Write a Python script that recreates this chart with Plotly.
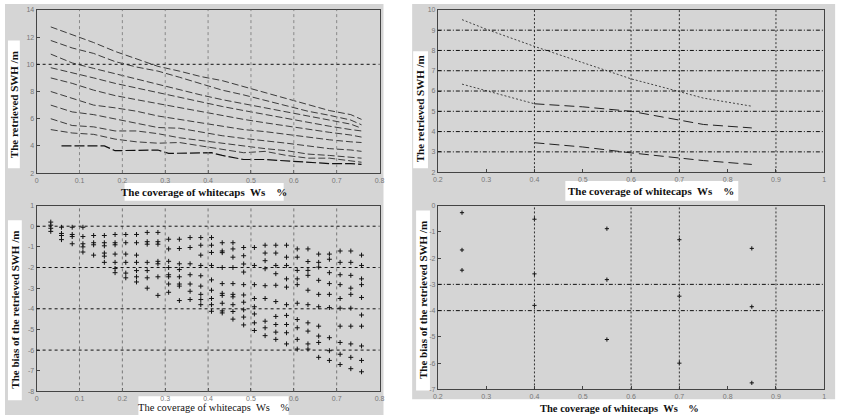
import plotly.graph_objects as go

W, H = 851, 418

# ---------------- data ----------------
# Top-left: retrieved SWH curves vs whitecap coverage
tl_x = [0.033, 0.083, 0.133, 0.183, 0.233, 0.283, 0.333, 0.383, 0.433, 0.483, 0.533, 0.583, 0.633, 0.683, 0.733, 0.758]
tl_lines = [
    [12.75, 12.2, 11.6, 10.95, 10.4, 9.85, 9.5, 9.1, 8.8, 8.35, 7.9, 7.45, 7.05, 6.6, 6.3, 5.95],
    [11.75, 11.2, 10.8, 10.2, 9.8, 9.5, 9.05, 8.6, 8.1, 7.75, 7.35, 6.95, 6.55, 6.25, 5.9, 5.55],
    [10.75, 10.1, 9.7, 9.3, 8.9, 8.55, 8.15, 7.75, 7.4, 7.1, 6.85, 6.55, 6.25, 5.95, 5.6, 5.3],
    [9.75, 9.4, 9.0, 8.6, 8.25, 7.9, 7.55, 7.2, 6.9, 6.6, 6.3, 6.05, 5.75, 5.45, 5.2, 5.1],
    [9.0, 8.6, 8.1, 7.7, 7.4, 7.1, 6.8, 6.5, 6.2, 5.95, 5.7, 5.45, 5.2, 5.0, 4.8, 4.65],
    [8.0, 7.5, 7.0, 6.8, 6.55, 6.2, 5.95, 5.7, 5.45, 5.2, 5.05, 4.85, 4.6, 4.45, 4.3, 4.25],
    [7.0, 6.5, 6.3, 6.0, 5.7, 5.35, 5.3, 5.0, 4.75, 4.55, 4.4, 4.2, 4.0, 3.8, 3.7, 3.6],
    [6.0, 5.5, 5.4, 5.1, 5.1, 4.9, 4.6, 4.4, 4.15, 4.0, 3.8, 3.65, 3.4, 3.3, 3.2, 3.1],
    [5.2, 4.95, 4.85, 4.5, 4.3, 4.2, 4.25, 4.0, 3.8, 3.5, 3.6, 3.3, 3.1, 3.1, 2.9, 2.8],
]
tl_last_x = [0.058, 0.158, 0.183, 0.233, 0.283, 0.308, 0.358, 0.408, 0.433, 0.483, 0.533, 0.583, 0.633, 0.683, 0.733, 0.758]
tl_last_y = [4.0, 4.0, 3.65, 3.7, 3.7, 3.45, 3.5, 3.5, 3.3, 3.0, 3.0, 2.9, 2.8, 2.7, 2.7, 2.65]

# Bottom-left: bias of retrieved SWH (scatter)
bl_cols = [0.033, 0.058, 0.083, 0.108, 0.133, 0.158, 0.183, 0.208, 0.233, 0.258,
           0.283, 0.308, 0.333, 0.358, 0.383, 0.408, 0.433, 0.458, 0.483, 0.508,
           0.533, 0.558, 0.583, 0.608, 0.633, 0.658, 0.683, 0.708, 0.733, 0.758]
bl_vals = [
    [0.2, 0.05, -0.1, -0.25],
    [-0.05, -0.35, -0.45, -0.65],
    [-0.05, -0.4, -0.5, -0.85],
    [-0.05, -0.5, -0.85, -1.0, -1.25],
    [-0.45, -0.8, -0.9, -1.4],
    [-0.45, -0.8, -0.95, -1.3, -1.45, -1.75],
    [-0.4, -0.8, -0.9, -1.35, -1.75, -2.05, -2.25],
    [-0.4, -0.8, -1.35, -1.75, -2.27, -2.5],
    [-0.4, -0.8, -1.4, -1.75, -2.15, -2.45, -2.7],
    [-0.3, -0.75, -0.87, -1.75, -2.15, -2.5, -3.0],
    [-0.3, -0.75, -0.87, -1.7, -1.82, -2.45, -3.35],
    [-0.63, -1.1, -1.7, -2.0, -2.35, -2.45, -2.8, -3.2],
    [-0.63, -1.08, -1.82, -2.1, -2.45, -2.8, -2.9, -3.6],
    [-0.55, -1.03, -1.82, -2.35, -2.8, -3.15, -3.55],
    [-0.55, -0.92, -1.4, -1.9, -2.4, -2.9, -3.3, -3.55, -3.8],
    [-0.55, -0.92, -1.27, -1.9, -2.6, -3.1, -3.5, -3.8, -4.12],
    [-0.8, -1.2, -1.28, -2.0, -2.78, -3.25, -3.35, -3.73, -4.1, -4.2],
    [-0.8, -1.1, -1.5, -2.0, -2.78, -3.3, -3.42, -3.8, -4.13, -4.5],
    [-1.03, -1.43, -1.83, -2.22, -2.83, -3.33, -3.68, -4.05, -4.4, -4.78],
    [-1.03, -1.9, -2.83, -3.5, -3.9, -4.25, -4.68, -5.05],
    [-0.92, -1.3, -1.67, -2.06, -2.88, -3.5, -4.6, -4.92, -5.3],
    [-0.92, -1.3, -1.9, -2.3, -2.86, -3.65, -4.37, -4.76, -5.13, -5.48],
    [-0.92, -1.5, -1.9, -2.55, -2.95, -3.8, -4.32, -4.76, -5.16, -5.7],
    [-1.1, -1.5, -2.14, -2.55, -2.83, -3.73, -4.52, -4.92, -5.48, -5.95],
    [-1.1, -1.71, -2.14, -2.38, -3.1, -3.8, -4.68, -5.08, -5.7, -5.95],
    [-1.35, -1.75, -1.98, -2.62, -3.3, -3.9, -4.84, -5.32, -5.63, -6.35],
    [-1.35, -1.6, -2.25, -2.78, -3.3, -3.94, -5.4, -6.03, -6.5],
    [-1.2, -1.75, -2.35, -2.83, -3.5, -3.97, -4.84, -5.63, -6.2, -6.7],
    [-1.2, -1.75, -2.38, -3.0, -3.3, -3.97, -4.84, -5.7, -6.35, -6.9],
    [-1.4, -1.9, -2.55, -2.83, -3.45, -4.3, -4.84, -5.8, -6.5, -7.05],
]

# Top-right: three retrieved SWH curves
tr_x1 = [0.25, 0.30, 0.40, 0.50, 0.60, 0.70, 0.75, 0.85]
tr_y1 = [9.52, 9.05, 8.2, 7.4, 6.6, 5.97, 5.65, 5.25]
tr_x2a = [0.25, 0.31, 0.40]
tr_y2a = [6.34, 5.95, 5.37]
tr_x2b = [0.40, 0.45, 0.50, 0.60, 0.70, 0.75, 0.85]
tr_y2b = [5.37, 5.3, 5.22, 5.0, 4.58, 4.35, 4.18]
tr_x3 = [0.40, 0.50, 0.60, 0.70, 0.75, 0.85]
tr_y3 = [3.45, 3.24, 2.95, 2.71, 2.57, 2.38]

# Bottom-right: bias scatter
br_x = [0.25, 0.25, 0.25, 0.40, 0.40, 0.40, 0.55, 0.55, 0.55, 0.70, 0.70, 0.70, 0.85, 0.85, 0.85]
br_y = [-0.27, -1.69, -2.46, -0.52, -2.6, -3.8, -0.88, -2.82, -5.1, -1.3, -3.45, -6.0, -1.63, -3.85, -6.75]

xlabel_txt = "The coverage of whitecaps  Ws &nbsp;&nbsp;&nbsp;%"
ylabel_top = "The retrieved SWH /m"
ylabel_bot = "The bias of the retrieved SWH /m"

tl_xticks = [0, 0.1, 0.2, 0.3, 0.4, 0.5, 0.6, 0.7, 0.8]
tl_yticks = [2, 4, 6, 8, 10, 12, 14]
bl_yticks = [1, 0, -1, -2, -3, -4, -5, -6, -7, -8]
r_xticks = [0.2, 0.3, 0.4, 0.5, 0.6, 0.7, 0.8, 0.9, 1.0]
tr_yticks = [2, 3, 4, 5, 6, 7, 8, 9, 10]
br_yticks = [0, -1, -2, -3, -4, -5, -6, -7]

tl_vgrid = [0.1, 0.2, 0.3, 0.4, 0.5, 0.6, 0.7]
tl_hgrid = [10]
bl_hgrid = [0, -2, -4, -6]
r_vgrid = [0.4, 0.6, 0.7, 0.9]
tr_hgrid = [3, 4, 5, 6, 7, 8, 9]
br_hgrid = [-3, -4]

# ---------------- figure ----------------
fig = go.Figure()

def px(x):
    return x / W

def py(y):
    return 1 - y / H

LINE_COL = "#2a2a2a"

for ys in tl_lines:
    fig.add_trace(go.Scatter(x=tl_x, y=ys, mode="lines", xaxis="x", yaxis="y",
                             line=dict(color=LINE_COL, width=0.9, dash="7px,3px"), showlegend=False))
fig.add_trace(go.Scatter(x=tl_last_x, y=tl_last_y, mode="lines", xaxis="x", yaxis="y",
                         line=dict(color="#111", width=1.2, dash="10px,3px"), showlegend=False))

bx, by = [], []
for xv, col in zip(bl_cols, bl_vals):
    for v in col:
        bx.append(xv)
        by.append(v)
fig.add_trace(go.Scatter(x=bx, y=by, mode="markers", xaxis="x2", yaxis="y2",
                         marker=dict(symbol="cross-thin", size=3.5, line=dict(color="#111", width=1)),
                         showlegend=False))

fig.add_trace(go.Scatter(x=tr_x1, y=tr_y1, mode="lines", xaxis="x3", yaxis="y3",
                         line=dict(color="#444", width=1, dash="2px,2px"), showlegend=False))
fig.add_trace(go.Scatter(x=tr_x2a, y=tr_y2a, mode="lines", xaxis="x3", yaxis="y3",
                         line=dict(color="#444", width=1, dash="2px,2px"), showlegend=False))
fig.add_trace(go.Scatter(x=tr_x2b, y=tr_y2b, mode="lines", xaxis="x3", yaxis="y3",
                         line=dict(color="#222", width=1, dash="10px,5px"), showlegend=False))
fig.add_trace(go.Scatter(x=tr_x3, y=tr_y3, mode="lines", xaxis="x3", yaxis="y3",
                         line=dict(color="#222", width=1, dash="10px,5px"), showlegend=False))

fig.add_trace(go.Scatter(x=br_x, y=br_y, mode="markers", xaxis="x4", yaxis="y4",
                         marker=dict(symbol="cross-thin", size=3, line=dict(color="#111", width=1)),
                         showlegend=False))

# domains (pixels -> paper)
tl_dom_x = [px(32), px(379)]
tl_dom_y = [py(172), py(6)]
bl_dom_y = [py(394), py(205)]
r_dom_x = [px(438), px(829)]
tr_dom_y = [py(171), py(6)]
br_dom_y = [py(392), py(205)]

tickfont = dict(family="Liberation Sans, Arial", size=7, color="#777")

def axis(domain, rng, ticks, anchor, labels=None):
    d = dict(domain=domain, range=rng, tickmode="array", tickvals=ticks,
             showgrid=False, zeroline=False, showline=True, linecolor="#444", linewidth=1,
             mirror=True, ticks="inside", ticklen=3, tickcolor="#444", tickfont=tickfont,
             anchor=anchor, fixedrange=True)
    if labels is not None:
        d["ticktext"] = labels
    return d

def fmt(v):
    return "%g" % v

fig.update_layout(
    width=W, height=H,
    margin=dict(l=0, r=0, t=0, b=0),
    paper_bgcolor="white", plot_bgcolor="white",
    showlegend=False,
    xaxis=axis(tl_dom_x, [0, 0.8], tl_xticks, "y", [fmt(v) for v in tl_xticks]),
    yaxis=axis(tl_dom_y, [2, 14], tl_yticks, "x", [fmt(v) for v in tl_yticks]),
    xaxis2=axis(tl_dom_x, [0, 0.8], tl_xticks, "y2", [fmt(v) for v in tl_xticks]),
    yaxis2=axis(bl_dom_y, [-8, 1], bl_yticks, "x2", [fmt(v) for v in bl_yticks]),
    xaxis3=axis(r_dom_x, [0.2, 1.0], r_xticks, "y3", [fmt(v) for v in r_xticks]),
    yaxis3=axis(tr_dom_y, [2, 10], tr_yticks, "x3", [fmt(v) for v in tr_yticks]),
    xaxis4=axis(r_dom_x, [0.2, 1.0], r_xticks, "y4", [fmt(v) for v in r_xticks]),
    yaxis4=axis(br_dom_y, [-7, 0], br_yticks, "x4", [fmt(v) for v in br_yticks]),
)

shapes = []
BG = "#d5d5d5"
# gray figure panels
shapes.append(dict(type="rect", xref="paper", yref="paper", x0=px(0), x1=px(383), y0=py(418), y1=py(0),
                   fillcolor=BG, line=dict(width=0), layer="below"))
shapes.append(dict(type="rect", xref="paper", yref="paper", x0=px(412), x1=px(840), y0=py(402), y1=py(0),
                   fillcolor=BG, line=dict(width=0), layer="below"))

# white label boxes
label_boxes = [(121, 182, 282, 200), (135, 399, 287, 418), (3, 37, 15, 167), (3, 220, 17, 403),
               (567, 180, 742, 200), (533, 403, 712, 418), (413, 48, 428, 167), (416, 210, 430, 393)]
for (x0, y0, x1, y1) in label_boxes:
    shapes.append(dict(type="rect", xref="paper", yref="paper", x0=px(x0), x1=px(x1), y0=py(y1), y1=py(y0),
                       fillcolor="white", line=dict(width=0), layer="below"))

GRID_DD = "4px,2px,1px,2px"

def vgrid(xs, xr, yr, color, dash):
    for v in xs:
        shapes.append(dict(type="line", xref=xr, yref=yr + " domain", x0=v, x1=v, y0=0, y1=1,
                           line=dict(color=color, width=1, dash=dash), layer="above"))

def hgrid(ys, xr, yr, color, dash):
    for v in ys:
        shapes.append(dict(type="line", xref=xr + " domain", yref=yr, x0=0, x1=1, y0=v, y1=v,
                           line=dict(color=color, width=1, dash=dash), layer="above"))

vgrid(tl_vgrid, "x", "y", "#888", "dot")
hgrid(tl_hgrid, "x", "y", "#111", "dot")
vgrid(tl_vgrid, "x2", "y2", "#777", "dot")
hgrid(bl_hgrid, "x2", "y2", "#111", "dot")
vgrid(r_vgrid, "x3", "y3", "#333", "2px,2px")
hgrid(tr_hgrid, "x3", "y3", "#111", GRID_DD)
vgrid(r_vgrid, "x4", "y4", "#333", "2px,2px")
hgrid(br_hgrid, "x4", "y4", "#111", GRID_DD)

fig.update_layout(shapes=shapes)

annots = []
serif = "Liberation Serif, Times New Roman, serif"
def xl(cx, cy, bold=True, size=11):
    t = "<b>" + xlabel_txt + "</b>" if bold else xlabel_txt
    annots.append(dict(text=t, xref="paper", yref="paper", x=px(cx), y=py(cy), showarrow=False,
                       xanchor="center", yanchor="middle", font=dict(family=serif, size=size, color="#111")))

def yl(cx, cy, txt, size=11):
    annots.append(dict(text="<b>" + txt + "</b>", xref="paper", yref="paper", x=px(cx), y=py(cy),
                       showarrow=False, textangle=-90, xanchor="center", yanchor="middle",
                       font=dict(family=serif, size=size, color="#111")))

xl(201, 191)
xl(211, 410, bold=False, size=10.5)
xl(654, 190)
xl(622, 411, size=10.5)
yl(9, 102, ylabel_top)
yl(10, 311, ylabel_bot)
yl(420, 107, ylabel_top)
yl(423, 301, ylabel_bot)
fig.update_layout(annotations=annots)

fig.write_html("out.html")
